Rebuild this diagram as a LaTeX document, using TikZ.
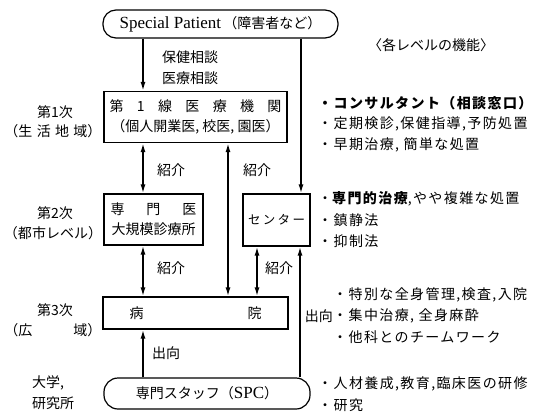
\documentclass[tikz,border=0pt]{standalone}
\usepackage{fontspec}
\setmainfont{Liberation Serif}
\newfontfamily\cjk{Noto Sans CJK JP}
\newfontfamily\cjkw[LetterSpace=10]{Noto Sans CJK JP}
\usetikzlibrary{arrows.meta}
\newcommand\fsz{\fontsize{14}{20}\selectfont}
\tikzset{
  box/.style={draw, line width=1.2pt, inner sep=0pt, align=center, font=\cjk\fsz},
  conn/.style={line width=1.6pt, -{Latex[length=9pt,width=5pt]}},
  dbl/.style={line width=1.6pt, {Latex[length=9pt,width=5pt]}-{Latex[length=9pt,width=5pt]}},
  lbl/.style={inner sep=0pt, font=\cjk\fsz},
  bul/.style={inner sep=0pt, anchor=west, font=\cjkw\fsz}
}
\begin{document}
\begin{tikzpicture}[x=1pt,y=-1pt]
\useasboundingbox (0,0) rectangle (535,412);
% x positions of vertical connectors
\coordinate (xA) at (143,0);
\coordinate (xB) at (228,0);
\coordinate (xC) at (257,0);
\coordinate (xD) at (301,0);
\coordinate (xE) at (300,0);
% boxes
\node[box, minimum width=235pt, minimum height=28pt, rounded corners=13pt] (top) at (220.5,24)
  {{\rmfamily\fontsize{17}{18}\selectfont Special Patient}\,（障害者など）};
\node[box, minimum width=183pt, minimum height=51pt] (box1) at (195.5,117)
  {\makebox[172pt][s]{第\hfill 1\hfill 線\hfill 医\hfill 療\hfill 機\hfill 関}\\（個人開業医, 校医, 園医）};
\node[box, minimum width=99pt, minimum height=51pt] (box2) at (153.5,219.5)
  {\makebox[86pt][s]{専\hfill 門\hfill 医}\\大規模診療所};
\node[box, minimum width=67pt, minimum height=52pt, font=\cjk\fontsize{12.5}{14}\selectfont] (centre) at (276.5,220)
  {\makebox[57pt][s]{セ\hfill ン\hfill タ\hfill ー}};
\node[box, minimum width=185pt, minimum height=32pt] (hosp) at (195.5,313)
  {\makebox[132pt][s]{病\hfill 院}};
\node[box, minimum width=206pt, minimum height=31pt, rounded corners=14pt] (spc) at (207,393.5)
  {専門スタッフ（{\rmfamily\fontsize{17}{18}\selectfont SPC}）};
% connectors
\draw[conn] (top.south -| xA) -- (box1.north -| xA);
\draw[conn] (top.south -| xD) -- (centre.north -| xD);
\draw[dbl] (box1.south -| xA) -- (box2.north -| xA);
\draw[dbl] (box2.south -| xA) -- (hosp.north -| xA);
\draw[dbl] (box1.south -| xB) -- (hosp.north -| xB);
\draw[dbl] (centre.south -| xC) -- (hosp.north -| xC);
\draw[conn] (spc.north -| xA) -- (hosp.south -| xA);
\draw[conn] (spc.north -| xE) -- (centre.south -| xE);
% connector labels
\node[lbl] (l1) at (190,57) {保健相談};
\node[lbl] (l2) at (190,78) {医療相談};
\node[lbl] (s1) at (171,170) {紹介};
\node[lbl] (s2) at (257,170) {紹介};
\node[lbl] (s3) at (171,268) {紹介};
\node[lbl] (s4) at (279,268) {紹介};
\node[lbl] (d1) at (166,353) {出向};
\node[lbl, anchor=east] (d2) at (333,316) {出向};
% level labels (left)
\node[lbl] (v1a) at (55,112) {第1次};
\node[lbl] (v1b) at (53,131) {\makebox[97pt][s]{（生\hfill 活\hfill 地\hfill 域）}};
\node[lbl] (v2a) at (55,213) {第2次};
\node[lbl] (v2b) at (53,233) {（都市レベル）};
\node[lbl] (v3a) at (55,310) {第3次};
\node[lbl] (v3b) at (53,330) {\makebox[97pt][s]{（広\hfill 域）}};
\node[lbl, anchor=west] (v4a) at (32,383) {大学,};
\node[lbl, anchor=west] (v4b) at (32,403) {研究所};
% functions (right)
\node[lbl] (title) at (431,45) {〈各レベルの機能〉};
\node[bul] (f1) at (318,103) {\bfseries ・コンサルタント（相談窓口）};
\node[bul] (f2) at (318,124) {・定期検診,保健指導,予防処置};
\node[bul] (f3) at (318,145) {・早期治療, 簡単な処置};
\node[bul] (f4) at (318,199) {・{\bfseries 専門的治療},やや複雑な処置};
\node[bul] (f5) at (318,220) {・鎮静法};
\node[bul] (f6) at (318,241) {・抑制法};
\node[bul] (f7) at (333,295) {・特別な全身管理,検査,入院};
\node[bul] (f8) at (333,316) {・集中治療, 全身麻酔};
\node[bul] (f9) at (333,337) {・他科とのチームワーク};
\node[bul] (f10) at (318,384) {・人材養成,教育,臨床医の研修};
\node[bul] (f11) at (318,405) {・研究};
\end{tikzpicture}
\end{document}
